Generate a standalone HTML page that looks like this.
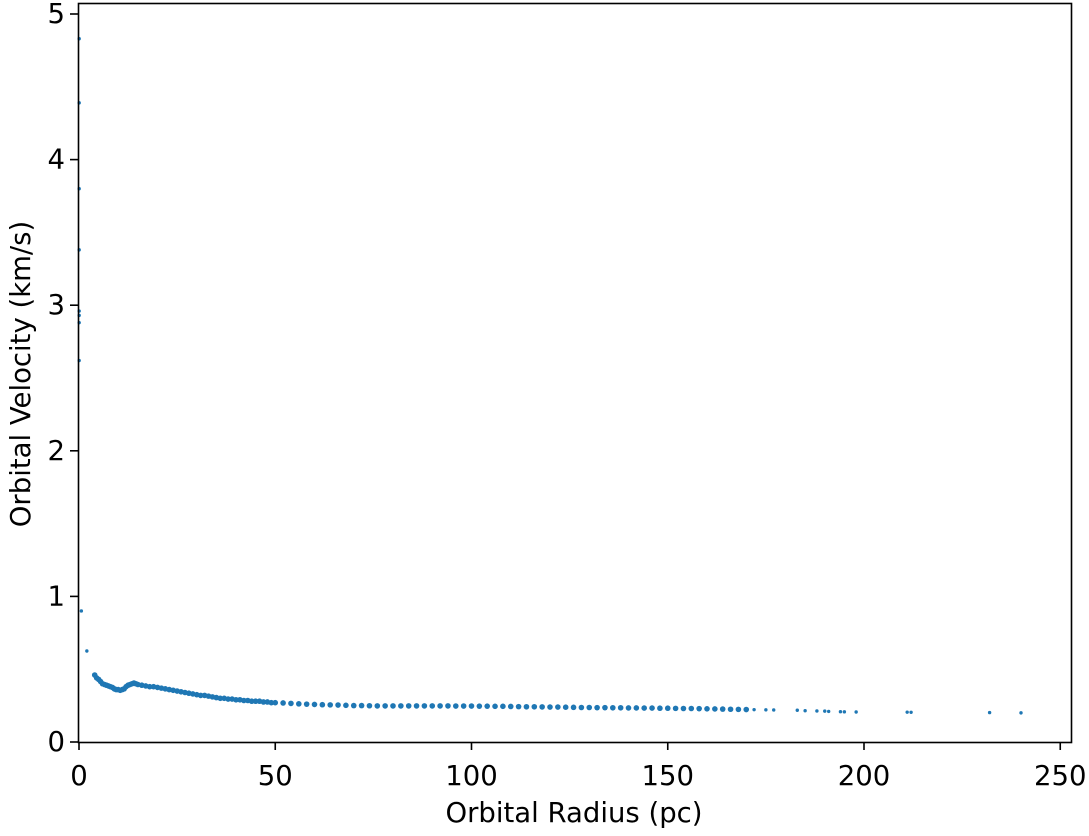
<!DOCTYPE html>
<html><head><meta charset="utf-8"><style>
body{margin:0;background:#fff;font-family:"Liberation Sans","DejaVu Sans",sans-serif;}
text{font-family:"DejaVu Sans","Liberation Sans",sans-serif;font-size:27.5px;fill:#000;}
</style></head><body>
<svg id="chart" width="1089" height="831" viewBox="0 0 1089 831" xmlns="http://www.w3.org/2000/svg">
<g id="marks"></g>
<rect x="78.5" y="3.5" width="993" height="739" fill="none" stroke="#000" stroke-width="1.6"/>
<g id="axes"></g>
<text x="574" y="822" text-anchor="middle">Orbital Radius (pc)</text>
<text transform="translate(30,374) rotate(-90)" text-anchor="middle">Orbital Velocity (km/s)</text>
</svg>
<script>
const radius = [0.05,0.05,0.05,0.05,0.05,0.05,0.05,0.05,0.6,2,4,4.5,5,5.5,6,6.5,7,7.5,8,8.5,9,9.5,10,10.5,11,11.5,12,12.5,13,13.5,14,14.5,15,16,17,18,19,20,21,22,23,24,25,26,27,28,29,30,31,32,33,34,35,36,37,38,39,40,41,42,43,44,45,46,47,48,49,50,52,54,56,58,60,62,64,66,68,70,72,74,76,78,80,82,84,86,88,90,92,94,96,98,100,102,104,106,108,110,112,114,116,118,120,122,124,126,128,130,132,134,136,138,140,142,144,146,148,150,152,154,156,158,160,162,164,166,168,170,172,175,177,183,185,188,190,191,194,195,198,211,212,232,240];
const velocity = [4.83,4.39,3.80,3.38,2.96,2.93,2.88,2.62,0.90,0.625,0.46,0.44,0.43,0.415,0.40,0.395,0.39,0.385,0.38,0.375,0.365,0.36,0.36,0.355,0.36,0.365,0.38,0.39,0.395,0.40,0.405,0.40,0.395,0.39,0.385,0.38,0.38,0.375,0.37,0.365,0.36,0.355,0.35,0.345,0.34,0.335,0.33,0.325,0.32,0.32,0.315,0.31,0.305,0.30,0.30,0.295,0.295,0.29,0.29,0.285,0.285,0.28,0.28,0.28,0.275,0.275,0.27,0.27,0.268,0.265,0.262,0.26,0.258,0.256,0.255,0.254,0.252,0.25,0.25,0.249,0.248,0.248,0.248,0.248,0.248,0.248,0.248,0.248,0.248,0.248,0.247,0.247,0.247,0.246,0.246,0.245,0.245,0.244,0.243,0.242,0.242,0.241,0.24,0.24,0.239,0.238,0.237,0.237,0.236,0.236,0.235,0.235,0.234,0.234,0.233,0.233,0.232,0.232,0.231,0.23,0.23,0.229,0.228,0.227,0.226,0.225,0.224,0.223,0.222,0.221,0.22,0.218,0.215,0.213,0.212,0.21,0.208,0.207,0.206,0.205,0.204,0.202,0.2,0.199,0.188,0.184];
const xTicks = [0,50,100,150,200,250];
const yTicks = [0,1,2,3,4,5];
const NS='http://www.w3.org/2000/svg';
const xs = v => 79 + v*3.925;
const ys = v => 742 - v*145.6;
const marks=document.getElementById('marks');
for(let i=0;i<radius.length;i++){
  const c=document.createElementNS(NS,'circle');
  c.setAttribute('cx',xs(radius[i]));c.setAttribute('cy',ys(velocity[i]));
  c.setAttribute('r',(i<10||radius[i]>170)?1.7:2.8);c.setAttribute('fill','#1f77b4');
  
  
  marks.appendChild(c);
}
const axes=document.getElementById('axes');
xTicks.forEach(t=>{
  const l=document.createElementNS(NS,'line');
  l.setAttribute('x1',xs(t));l.setAttribute('x2',xs(t));l.setAttribute('y1',742);l.setAttribute('y2',750);l.setAttribute('stroke','#000');l.setAttribute('stroke-width','1.6');
  
  
  axes.appendChild(l);
  const tx=document.createElementNS(NS,'text');
  tx.setAttribute('x',xs(t));tx.setAttribute('y',785);tx.setAttribute('text-anchor','middle');tx.textContent=t;
  
  
  axes.appendChild(tx);
});
yTicks.forEach(t=>{
  const l=document.createElementNS(NS,'line');
  l.setAttribute('x1',70);l.setAttribute('x2',78);l.setAttribute('y1',ys(t));l.setAttribute('y2',ys(t));l.setAttribute('stroke','#000');l.setAttribute('stroke-width','1.6');
  
  
  axes.appendChild(l);
  const tx=document.createElementNS(NS,'text');
  tx.setAttribute('x',65);tx.setAttribute('y',ys(t)+9);tx.setAttribute('text-anchor','end');tx.textContent=t;
  
  
  axes.appendChild(tx);
});
</script>
</body></html>
